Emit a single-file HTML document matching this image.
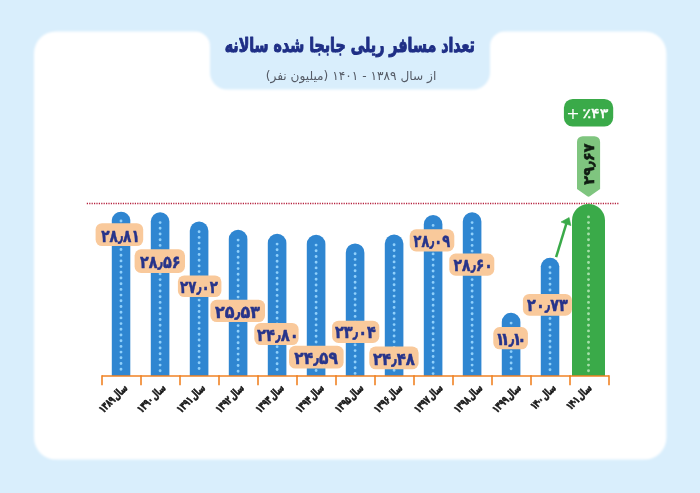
<!DOCTYPE html>
<html lang="fa">
<head>
<meta charset="utf-8">
<title>تعداد مسافر ریلی جابجا شده سالانه</title>
<style>html,body{margin:0;padding:0;background:#d9eefc;}body{width:700px;height:493px;overflow:hidden;}svg{display:block;}</style>
</head>
<body>
<svg xmlns="http://www.w3.org/2000/svg" width="700" height="493" viewBox="0 0 700 493">
<rect width="700" height="493" fill="#d9eefc"/>
<defs><filter id="soft" x="-5%" y="-5%" width="110%" height="110%"><feGaussianBlur stdDeviation="0.9"/></filter></defs>
<path d="M56,31.4 H195 A15,15 0 0 1 210,46.4 V72.6 A17,17 0 0 0 227,89.6 H473 A17,17 0 0 0 490,72.6 V46.4 A15,15 0 0 1 505,31.4 H644.4 A22,22 0 0 1 666.4,53.4 V437.6 A22,22 0 0 1 644.4,459.6 H56 A22,22 0 0 1 34,437.6 V53.4 A22,22 0 0 1 56,31.4 Z" fill="#ffffff" filter="url(#soft)"/>
<text id="title" transform="translate(349.8,52.2) scale(0.712,1)" text-anchor="middle" direction="rtl" font-family="'DejaVu Sans','Liberation Sans',sans-serif" font-weight="bold" font-size="20" fill="#1f2f86" stroke="#1f2f86" stroke-width="1.0" stroke-linejoin="round">تعداد مسافر ریلی جابجا شده سالانه</text>
<text id="sub" transform="translate(351,79.8) scale(0.99,1)" text-anchor="middle" direction="rtl" font-family="'DejaVu Sans','Liberation Sans',sans-serif" font-size="12.3" fill="#555b66">از سال ۱۳۸۹ - ۱۴۰۱ (میلیون نفر)</text>
<line x1="86.8" y1="203.5" x2="618.6" y2="203.5" stroke="#b5203c" stroke-width="1.3" stroke-dasharray="1.2 1.2"/>
<path d="M111.8,376.0 V220.0 A9.3,9.3 0 0 1 130.3,220.0 V376.0 Z" fill="#2f86d1"/>
<line x1="121.0" y1="221.0" x2="121.0" y2="374.0" stroke="#8fd0fb" stroke-width="2.9" stroke-linecap="round" stroke-dasharray="0 5.7"/>
<path d="M150.8,376.0 V221.6 A9.3,9.3 0 0 1 169.4,221.6 V376.0 Z" fill="#2f86d1"/>
<line x1="160.1" y1="222.6" x2="160.1" y2="374.0" stroke="#8fd0fb" stroke-width="2.9" stroke-linecap="round" stroke-dasharray="0 5.7"/>
<path d="M189.8,376.0 V230.7 A9.3,9.3 0 0 1 208.4,230.7 V376.0 Z" fill="#2f86d1"/>
<line x1="199.1" y1="231.7" x2="199.1" y2="374.0" stroke="#8fd0fb" stroke-width="2.9" stroke-linecap="round" stroke-dasharray="0 5.7"/>
<path d="M228.8,376.0 V239.1 A9.3,9.3 0 0 1 247.4,239.1 V376.0 Z" fill="#2f86d1"/>
<line x1="238.1" y1="240.1" x2="238.1" y2="374.0" stroke="#8fd0fb" stroke-width="2.9" stroke-linecap="round" stroke-dasharray="0 5.7"/>
<path d="M267.8,376.0 V243.1 A9.3,9.3 0 0 1 286.4,243.1 V376.0 Z" fill="#2f86d1"/>
<line x1="277.1" y1="244.1" x2="277.1" y2="374.0" stroke="#8fd0fb" stroke-width="2.9" stroke-linecap="round" stroke-dasharray="0 5.7"/>
<path d="M306.8,376.0 V244.1 A9.3,9.3 0 0 1 325.4,244.1 V376.0 Z" fill="#2f86d1"/>
<line x1="316.1" y1="245.1" x2="316.1" y2="374.0" stroke="#8fd0fb" stroke-width="2.9" stroke-linecap="round" stroke-dasharray="0 5.7"/>
<path d="M345.8,376.0 V252.7 A9.3,9.3 0 0 1 364.4,252.7 V376.0 Z" fill="#2f86d1"/>
<line x1="355.1" y1="253.7" x2="355.1" y2="374.0" stroke="#8fd0fb" stroke-width="2.9" stroke-linecap="round" stroke-dasharray="0 5.7"/>
<path d="M384.8,376.0 V243.8 A9.3,9.3 0 0 1 403.4,243.8 V376.0 Z" fill="#2f86d1"/>
<line x1="394.1" y1="244.8" x2="394.1" y2="374.0" stroke="#8fd0fb" stroke-width="2.9" stroke-linecap="round" stroke-dasharray="0 5.7"/>
<path d="M423.8,376.0 V224.4 A9.3,9.3 0 0 1 442.4,224.4 V376.0 Z" fill="#2f86d1"/>
<line x1="433.1" y1="225.4" x2="433.1" y2="374.0" stroke="#8fd0fb" stroke-width="2.9" stroke-linecap="round" stroke-dasharray="0 5.7"/>
<path d="M462.8,376.0 V221.6 A9.3,9.3 0 0 1 481.4,221.6 V376.0 Z" fill="#2f86d1"/>
<line x1="472.1" y1="222.6" x2="472.1" y2="374.0" stroke="#8fd0fb" stroke-width="2.9" stroke-linecap="round" stroke-dasharray="0 5.7"/>
<path d="M501.8,376.0 V322.1 A9.3,9.3 0 0 1 520.4,322.1 V376.0 Z" fill="#2f86d1"/>
<line x1="511.1" y1="323.1" x2="511.1" y2="374.0" stroke="#8fd0fb" stroke-width="2.9" stroke-linecap="round" stroke-dasharray="0 5.7"/>
<path d="M540.8,376.0 V266.2 A9.3,9.3 0 0 1 559.3,266.2 V376.0 Z" fill="#2f86d1"/>
<line x1="550.0" y1="267.2" x2="550.0" y2="374.0" stroke="#8fd0fb" stroke-width="2.9" stroke-linecap="round" stroke-dasharray="0 5.7"/>
<path d="M572.0,376.0 V220.4 A16.5,16.5 0 0 1 605.0,220.4 V376.0 Z" fill="#3aaa49"/>
<line x1="588.5" y1="216.9" x2="588.5" y2="374.0" stroke="#a6dfa9" stroke-width="2.9" stroke-linecap="round" stroke-dasharray="0 5.7"/>
<path d="M102.0,376.0 H609.0" stroke="#f08223" stroke-width="1.6" fill="none"/>
<line x1="102.0" y1="375.2" x2="102.0" y2="385.2" stroke="#f08223" stroke-width="1.6"/>
<line x1="141.0" y1="375.2" x2="141.0" y2="385.2" stroke="#f08223" stroke-width="1.6"/>
<line x1="180.0" y1="375.2" x2="180.0" y2="385.2" stroke="#f08223" stroke-width="1.6"/>
<line x1="219.0" y1="375.2" x2="219.0" y2="385.2" stroke="#f08223" stroke-width="1.6"/>
<line x1="258.0" y1="375.2" x2="258.0" y2="385.2" stroke="#f08223" stroke-width="1.6"/>
<line x1="297.0" y1="375.2" x2="297.0" y2="385.2" stroke="#f08223" stroke-width="1.6"/>
<line x1="336.0" y1="375.2" x2="336.0" y2="385.2" stroke="#f08223" stroke-width="1.6"/>
<line x1="375.0" y1="375.2" x2="375.0" y2="385.2" stroke="#f08223" stroke-width="1.6"/>
<line x1="414.0" y1="375.2" x2="414.0" y2="385.2" stroke="#f08223" stroke-width="1.6"/>
<line x1="453.0" y1="375.2" x2="453.0" y2="385.2" stroke="#f08223" stroke-width="1.6"/>
<line x1="492.0" y1="375.2" x2="492.0" y2="385.2" stroke="#f08223" stroke-width="1.6"/>
<line x1="531.0" y1="375.2" x2="531.0" y2="385.2" stroke="#f08223" stroke-width="1.6"/>
<line x1="570.0" y1="375.2" x2="570.0" y2="385.2" stroke="#f08223" stroke-width="1.6"/>
<line x1="609.0" y1="375.2" x2="609.0" y2="385.2" stroke="#f08223" stroke-width="1.6"/>
<text class="yr" transform="translate(128.0,388.6) rotate(-45) scale(0.68,1)" direction="rtl" text-anchor="start" word-spacing="-2.5" font-family="'DejaVu Sans','Liberation Sans',sans-serif" font-weight="bold" font-size="10.8" fill="#1a1a1a" stroke="#1a1a1a" stroke-width="0.7">سال ۱۳۸۹</text>
<text class="yr" transform="translate(166.3,388.6) rotate(-45) scale(0.68,1)" direction="rtl" text-anchor="start" word-spacing="-2.5" font-family="'DejaVu Sans','Liberation Sans',sans-serif" font-weight="bold" font-size="10.8" fill="#1a1a1a" stroke="#1a1a1a" stroke-width="0.7">سال ۱۳۹۰</text>
<text class="yr" transform="translate(205.8,388.6) rotate(-45) scale(0.68,1)" direction="rtl" text-anchor="start" word-spacing="-2.5" font-family="'DejaVu Sans','Liberation Sans',sans-serif" font-weight="bold" font-size="10.8" fill="#1a1a1a" stroke="#1a1a1a" stroke-width="0.7">سال ۱۳۹۱</text>
<text class="yr" transform="translate(244.7,388.6) rotate(-45) scale(0.68,1)" direction="rtl" text-anchor="start" word-spacing="-2.5" font-family="'DejaVu Sans','Liberation Sans',sans-serif" font-weight="bold" font-size="10.8" fill="#1a1a1a" stroke="#1a1a1a" stroke-width="0.7">سال ۱۳۹۲</text>
<text class="yr" transform="translate(284.7,388.6) rotate(-45) scale(0.68,1)" direction="rtl" text-anchor="start" word-spacing="-2.5" font-family="'DejaVu Sans','Liberation Sans',sans-serif" font-weight="bold" font-size="10.8" fill="#1a1a1a" stroke="#1a1a1a" stroke-width="0.7">سال ۱۳۹۳</text>
<text class="yr" transform="translate(324.7,388.6) rotate(-45) scale(0.68,1)" direction="rtl" text-anchor="start" word-spacing="-2.5" font-family="'DejaVu Sans','Liberation Sans',sans-serif" font-weight="bold" font-size="10.8" fill="#1a1a1a" stroke="#1a1a1a" stroke-width="0.7">سال ۱۳۹۴</text>
<text class="yr" transform="translate(364.0,388.6) rotate(-45) scale(0.68,1)" direction="rtl" text-anchor="start" word-spacing="-2.5" font-family="'DejaVu Sans','Liberation Sans',sans-serif" font-weight="bold" font-size="10.8" fill="#1a1a1a" stroke="#1a1a1a" stroke-width="0.7">سال ۱۳۹۵</text>
<text class="yr" transform="translate(403.1,388.6) rotate(-45) scale(0.68,1)" direction="rtl" text-anchor="start" word-spacing="-2.5" font-family="'DejaVu Sans','Liberation Sans',sans-serif" font-weight="bold" font-size="10.8" fill="#1a1a1a" stroke="#1a1a1a" stroke-width="0.7">سال ۱۳۹۶</text>
<text class="yr" transform="translate(443.3,388.6) rotate(-45) scale(0.68,1)" direction="rtl" text-anchor="start" word-spacing="-2.5" font-family="'DejaVu Sans','Liberation Sans',sans-serif" font-weight="bold" font-size="10.8" fill="#1a1a1a" stroke="#1a1a1a" stroke-width="0.7">سال ۱۳۹۷</text>
<text class="yr" transform="translate(483.0,388.6) rotate(-45) scale(0.68,1)" direction="rtl" text-anchor="start" word-spacing="-2.5" font-family="'DejaVu Sans','Liberation Sans',sans-serif" font-weight="bold" font-size="10.8" fill="#1a1a1a" stroke="#1a1a1a" stroke-width="0.7">سال ۱۳۹۸</text>
<text class="yr" transform="translate(521.5,388.6) rotate(-45) scale(0.68,1)" direction="rtl" text-anchor="start" word-spacing="-2.5" font-family="'DejaVu Sans','Liberation Sans',sans-serif" font-weight="bold" font-size="10.8" fill="#1a1a1a" stroke="#1a1a1a" stroke-width="0.7">سال ۱۳۹۹</text>
<text class="yr" transform="translate(556.5,388.6) rotate(-45) scale(0.68,1)" direction="rtl" text-anchor="start" word-spacing="-2.5" font-family="'DejaVu Sans','Liberation Sans',sans-serif" font-weight="bold" font-size="10.8" fill="#1a1a1a" stroke="#1a1a1a" stroke-width="0.7">سال <tspan dx="6.4 -1.0 -2.2 -2.6">۱۴۰۰</tspan></text>
<text class="yr" transform="translate(592.4,388.6) rotate(-45) scale(0.68,1)" direction="rtl" text-anchor="start" word-spacing="-2.5" font-family="'DejaVu Sans','Liberation Sans',sans-serif" font-weight="bold" font-size="10.8" fill="#1a1a1a" stroke="#1a1a1a" stroke-width="0.7">سال <tspan dx="6.0 -1.0 -2.2 -2.2">۱۴۰۱</tspan></text>
<path d="M556.1,257.2 L566.4,223.4" stroke="#3aaa49" stroke-width="2.5" fill="none"/>
<path d="M569.1,217.5 L561.0,222.0 L566.2,224.0 L570.9,225.6 Z" fill="#3aaa49" stroke="#3aaa49" stroke-width="0.6" stroke-linejoin="round"/>
<rect x="95.6" y="223.2" width="47.6" height="22.8" rx="6.4" fill="#f9c99b"/>
<text class="val" transform="translate(101.2,241.5) scale(0.788,1)" text-anchor="start" direction="ltr" unicode-bidi="bidi-override" font-family="'DejaVu Sans','Liberation Sans',sans-serif" font-weight="bold" font-size="17.4" fill="#27348b" stroke="#27348b" stroke-width="0.5" stroke-linejoin="round">۲۸٫۸۱</text>
<rect x="134.6" y="249.3" width="50.4" height="23.6" rx="6.4" fill="#f9c99b"/>
<text class="val" transform="translate(140.0,268.4) scale(0.826,1)" text-anchor="start" direction="ltr" unicode-bidi="bidi-override" font-family="'DejaVu Sans','Liberation Sans',sans-serif" font-weight="bold" font-size="17.4" fill="#27348b" stroke="#27348b" stroke-width="0.5" stroke-linejoin="round">۲۸٫۵۶</text>
<rect x="177.9" y="275.4" width="43.5" height="21.7" rx="6.4" fill="#f9c99b"/>
<text class="val" transform="translate(180.0,292.6) scale(0.774,1)" text-anchor="start" direction="ltr" unicode-bidi="bidi-override" font-family="'DejaVu Sans','Liberation Sans',sans-serif" font-weight="bold" font-size="17.4" fill="#27348b" stroke="#27348b" stroke-width="0.5" stroke-linejoin="round">۲۷٫۰۲</text>
<rect x="210.4" y="299.7" width="54.6" height="22.4" rx="6.4" fill="#f9c99b"/>
<text class="val" transform="translate(215.0,317.6) scale(0.920,1)" text-anchor="start" direction="ltr" unicode-bidi="bidi-override" font-family="'DejaVu Sans','Liberation Sans',sans-serif" font-weight="bold" font-size="17.4" fill="#27348b" stroke="#27348b" stroke-width="0.5" stroke-linejoin="round">۲۵٫۵۳</text>
<rect x="254.3" y="322.9" width="44.3" height="22.1" rx="6.4" fill="#f9c99b"/>
<text class="val" transform="translate(257.1,340.5) scale(0.850,1)" text-anchor="start" direction="ltr" unicode-bidi="bidi-override" font-family="'DejaVu Sans','Liberation Sans',sans-serif" font-weight="bold" font-size="17.4" fill="#27348b" stroke="#27348b" stroke-width="0.5" stroke-linejoin="round">۲۴٫۸۰</text>
<rect x="289.0" y="345.7" width="54.6" height="22.9" rx="6.4" fill="#f9c99b"/>
<text class="val" transform="translate(294.3,364.1) scale(0.891,1)" text-anchor="start" direction="ltr" unicode-bidi="bidi-override" font-family="'DejaVu Sans','Liberation Sans',sans-serif" font-weight="bold" font-size="17.4" fill="#27348b" stroke="#27348b" stroke-width="0.5" stroke-linejoin="round">۲۴٫۵۹</text>
<rect x="332.1" y="320.7" width="47.2" height="22.2" rx="6.4" fill="#f9c99b"/>
<text class="val" transform="translate(335.0,338.4) scale(0.836,1)" text-anchor="start" direction="ltr" unicode-bidi="bidi-override" font-family="'DejaVu Sans','Liberation Sans',sans-serif" font-weight="bold" font-size="17.4" fill="#27348b" stroke="#27348b" stroke-width="0.5" stroke-linejoin="round">۲۳٫۰۴</text>
<rect x="369.3" y="346.4" width="49.3" height="22.9" rx="6.4" fill="#f9c99b"/>
<text class="val" transform="translate(372.9,364.8) scale(0.860,1)" text-anchor="start" direction="ltr" unicode-bidi="bidi-override" font-family="'DejaVu Sans','Liberation Sans',sans-serif" font-weight="bold" font-size="17.4" fill="#27348b" stroke="#27348b" stroke-width="0.5" stroke-linejoin="round">۲۴٫۴۸</text>
<rect x="409.7" y="229.3" width="44.6" height="22.1" rx="6.4" fill="#f9c99b"/>
<text class="val" transform="translate(413.6,246.9) scale(0.744,1)" text-anchor="start" direction="ltr" unicode-bidi="bidi-override" font-family="'DejaVu Sans','Liberation Sans',sans-serif" font-weight="bold" font-size="17.4" fill="#27348b" stroke="#27348b" stroke-width="0.5" stroke-linejoin="round">۲۸٫۰۹</text>
<rect x="449.3" y="253.6" width="45.0" height="22.1" rx="6.4" fill="#f9c99b"/>
<text class="val" transform="translate(453.6,271.2) scale(0.802,1)" text-anchor="start" direction="ltr" unicode-bidi="bidi-override" font-family="'DejaVu Sans','Liberation Sans',sans-serif" font-weight="bold" font-size="17.4" fill="#27348b" stroke="#27348b" stroke-width="0.5" stroke-linejoin="round">۲۸٫۶۰</text>
<rect x="493.3" y="327.1" width="34.6" height="22.2" rx="6.4" fill="#f9c99b"/>
<text class="val" transform="translate(495.6,344.8) scale(0.860,1)" text-anchor="start" direction="ltr" unicode-bidi="bidi-override" dx="0 -5 -0.8 -2.4 -5" font-family="'DejaVu Sans','Liberation Sans',sans-serif" font-weight="bold" font-size="17.4" fill="#27348b" stroke="#27348b" stroke-width="0.5" stroke-linejoin="round">۱۱٫۱۰</text>
<rect x="522.9" y="293.9" width="49.0" height="21.8" rx="6.4" fill="#f9c99b"/>
<text class="val" transform="translate(527.1,311.2) scale(0.834,1)" text-anchor="start" direction="ltr" unicode-bidi="bidi-override" font-family="'DejaVu Sans','Liberation Sans',sans-serif" font-weight="bold" font-size="17.4" fill="#27348b" stroke="#27348b" stroke-width="0.5" stroke-linejoin="round">۲۰٫۷۳</text>
<rect x="563.9" y="99" width="49.3" height="27.6" rx="8.8" fill="#3aaa49"/>
<text id="plus" x="573" y="118.6" text-anchor="middle" font-family="'DejaVu Sans','Liberation Sans',sans-serif" font-size="16" fill="#ffffff">+</text>
<text id="pct" transform="translate(595.4,118.4) scale(1.21,1)" text-anchor="middle" direction="ltr" unicode-bidi="bidi-override" font-family="'DejaVu Sans','Liberation Sans',sans-serif" font-size="13.3" fill="#ffffff" stroke="#ffffff" stroke-width="0.45">٪۴۳</text>
<path d="M577,141.9 A5.7,5.7 0 0 1 582.7,136.2 H594.4 A5.7,5.7 0 0 1 600.1,141.9 V189 L589.8,196.3 Q588.55,197.2 587.3,196.3 L577,189 Z" fill="#7fc57f"/>
<text id="tagv" transform="translate(593.9,164.1) rotate(-90) scale(0.98,1)" text-anchor="middle" direction="ltr" unicode-bidi="bidi-override" font-family="'DejaVu Sans','Liberation Sans',sans-serif" font-weight="bold" font-size="15" fill="#101c12" stroke="#101c12" stroke-width="0.6">۲۹٫۶۷</text>
</svg>
</body>
</html>
